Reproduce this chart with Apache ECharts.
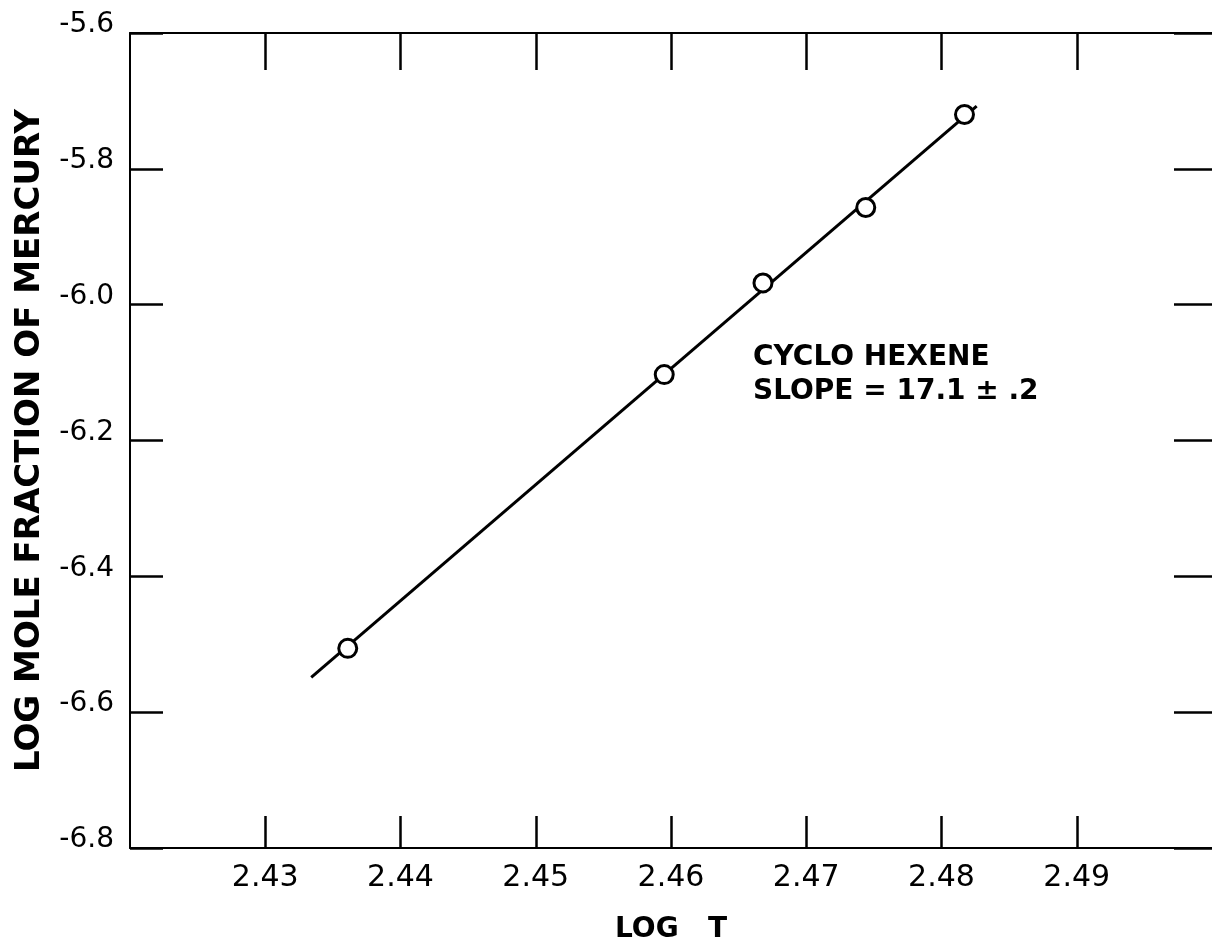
<!DOCTYPE html>
<html>
<head>
<meta charset="utf-8">
<script src="https://cdn.jsdelivr.net/npm/echarts@6/dist/echarts.min.js"></script>
<style>
  html, body { margin: 0; padding: 0; background: #fff; }
  #chart { width: 1212px; height: 949px; }
</style>
</head>
<body>
<div id="chart"></div>
<script>
// Measured points: log T vs log mole fraction of mercury (cyclohexene)
const logT = [2.4361, 2.4595, 2.4668, 2.4744, 2.4817];
const logMoleFraction = [-6.506, -6.103, -5.968, -5.857, -5.720];

// Fitted line: stated slope, drawn through the centroid of the points
const fitSlope = 17.1;
const fitRange = [2.4334, 2.4826];

// Axis ticks and their labels
const xTicks = [2.43, 2.44, 2.45, 2.46, 2.47, 2.48, 2.49];
const xTickLabels = ['2.43', '2.44', '2.45', '2.46', '2.47', '2.48', '2.49'];
const yTicks = [-6.8, -6.6, -6.4, -6.2, -6.0, -5.8, -5.6];
const yTickLabels = ['-6.8', '-6.6', '-6.4', '-6.2', '-6.0', '-5.8', '-5.6'];

const annotationLines = ['CYCLO HEXENE', 'SLOPE = 17.1 \u00b1 .2'];

const INK = '#000';
const FONT = '"DejaVu Sans", "Liberation Sans", sans-serif';

function lookup(ticks, labels, v) {
  const i = ticks.findIndex(t => Math.abs(t - v) < 1e-6);
  return i >= 0 ? labels[i] : '';
}

const meanX = logT.reduce((a, b) => a + b, 0) / logT.length;
const meanY = logMoleFraction.reduce((a, b) => a + b, 0) / logMoleFraction.length;
const fitLine = fitRange.map(x => [x, meanY + fitSlope * (x - meanX)]);

const points = logT.map((x, i) => [x, logMoleFraction[i]]);

const xCommon = {
  type: 'value', min: 2.42, max: 2.50, interval: 0.01,
  splitLine: { show: false },
  axisLine: { show: true, lineStyle: { color: INK, width: 2 } }
};
const yCommon = {
  type: 'value', min: -6.8, max: -5.6, interval: 0.2,
  splitLine: { show: false }
};

const chart = echarts.init(document.getElementById('chart'), null, { renderer: 'canvas' });
chart.setOption({
  backgroundColor: '#fff',
  animation: false,
  grid: { left: 130, top: 33, width: 1091, height: 816, containLabel: false },
  xAxis: [
    Object.assign({}, xCommon, {
      position: 'bottom',
      name: 'LOG   T',
      nameLocation: 'middle',
      nameGap: 68,
      nameTextStyle: { fontFamily: FONT, fontSize: 28, fontWeight: 'bold', color: INK },
      axisTick: {
        show: true, inside: true, length: 32,
        lineStyle: { color: INK, width: 2.5 },
        customValues: xTicks
      },
      axisLabel: {
        show: true, margin: 15, fontFamily: FONT, fontSize: 30, color: INK,
        customValues: xTicks,
        formatter: v => lookup(xTicks, xTickLabels, v)
      }
    }),
    Object.assign({}, xCommon, {
      position: 'top',
      axisTick: {
        show: true, inside: true, length: 37,
        lineStyle: { color: INK, width: 2.5 },
        customValues: xTicks
      },
      axisLabel: { show: false }
    })
  ],
  yAxis: [
    Object.assign({}, yCommon, {
      position: 'left',
      name: 'LOG MOLE FRACTION OF MERCURY',
      nameLocation: 'middle',
      nameRotate: 90,
      nameGap: 83,
      nameTextStyle: { fontFamily: FONT, fontSize: 34, fontWeight: 'bold', color: INK },
      axisLine: { show: true, lineStyle: { color: INK, width: 2 } },
      axisTick: {
        show: true, inside: true, length: 33,
        lineStyle: { color: INK, width: 2.5 }
      },
      axisLabel: {
        show: true, margin: 16, fontFamily: FONT, fontSize: 28, color: INK,
        verticalAlign: 'bottom', lineHeight: 16,
        formatter: v => lookup(yTicks, yTickLabels, v)
      }
    }),
    Object.assign({}, yCommon, {
      position: 'right',
      axisLine: { show: false },
      axisTick: {
        show: true, inside: true, length: 38,
        lineStyle: { color: INK, width: 2.5 }
      },
      axisLabel: { show: false }
    })
  ],
  graphic: [{
    type: 'text',
    left: 753,
    top: 341,
    style: {
      text: annotationLines.join('\n'),
      font: 'bold 28px ' + FONT,
      lineHeight: 34,
      fill: INK
    }
  }],
  series: [
    {
      type: 'line',
      data: fitLine,
      xAxisIndex: 0, yAxisIndex: 0,
      showSymbol: false,
      lineStyle: { color: INK, width: 3 },
      z: 2
    },
    {
      type: 'scatter',
      data: points,
      xAxisIndex: 0, yAxisIndex: 0,
      symbol: 'circle',
      symbolSize: 18,
      itemStyle: { color: '#fff', borderColor: INK, borderWidth: 3, opacity: 1 },
      z: 3
    }
  ]
});
</script>
</body>
</html>
